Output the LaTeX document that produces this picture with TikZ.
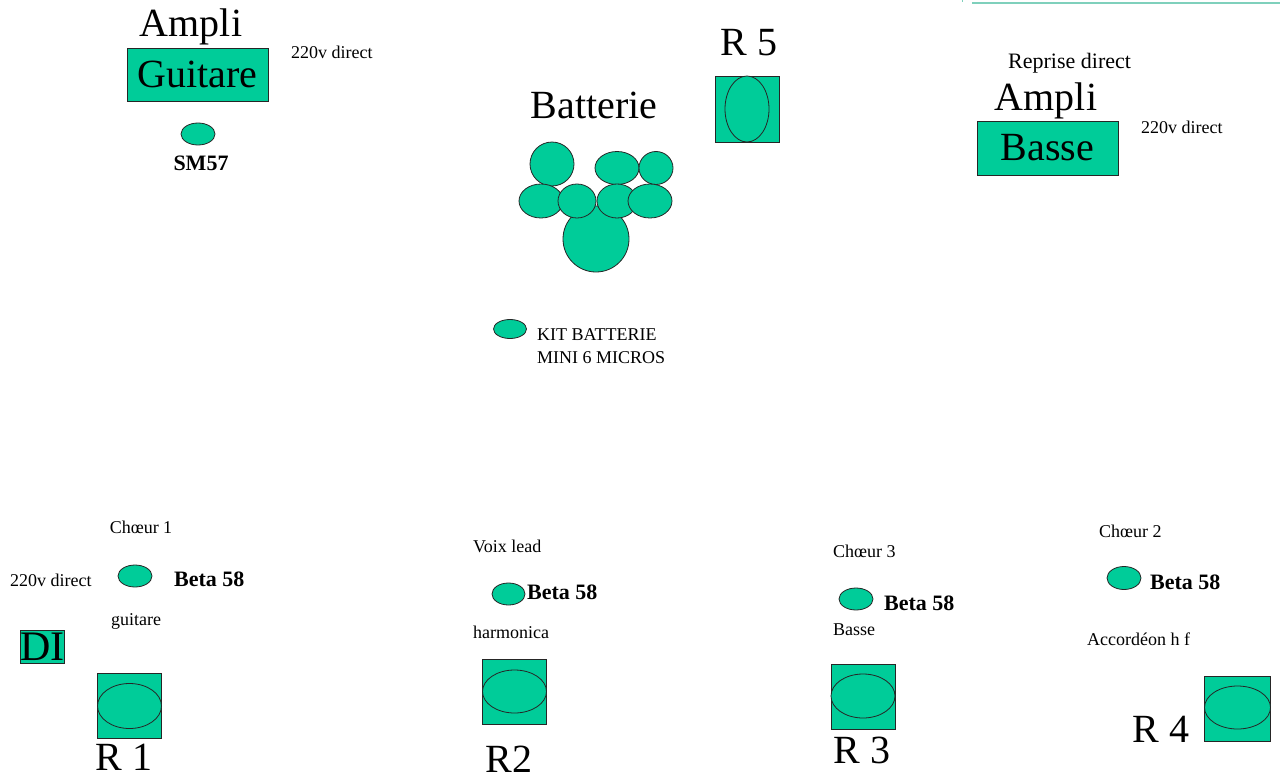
\documentclass[tikz,border=0pt]{standalone}
\usepackage{fontspec}
\setmainfont{Liberation Serif}
\usetikzlibrary{shapes.geometric}
\definecolor{stage}{HTML}{00CC99}
\definecolor{faint}{HTML}{7FD0BC}
\begin{document}
\begin{tikzpicture}[x=1pt,y=-1pt,
  box/.style={draw=black!85, line width=0.8pt, fill=stage, inner sep=0pt},
  elli/.style={ellipse, draw=black!85, line width=0.8pt, fill=stage, inner sep=0pt},
  big/.style={font=\fontsize{40}{44}\selectfont, inner sep=0pt},
  small/.style={font=\fontsize{18}{20}\selectfont, inner sep=0pt},
  medium/.style={font=\fontsize{22}{24}\selectfont, inner sep=0pt},
  bold/.style={font=\fontsize{22}{24}\selectfont\bfseries, inner sep=0pt}]
\useasboundingbox (0,0) rectangle (1280,779);

% faint line top right
\coordinate (l0) at (972,3);
\coordinate (l1) at (1280,3);
\coordinate (t0) at (962,0);
\coordinate (t1) at (962,2);
\draw[faint, line width=1.5pt] (l0) -- (l1);
\draw[faint, line width=1pt] (t0) -- (t1);

% ---- Ampli guitare
\node[big, anchor=base] (amplig) at (191,36) {Ampli};
\node[box, big, minimum width=141pt, minimum height=53pt] (guitare) at (197.5,74.5) {Guitare};
\node[small, anchor=base west] (dirg) at (291,58) {220v direct};
\node[elli, minimum width=34pt, minimum height=22pt] (sm57) at (198,134) {};
\node[bold, anchor=base] (sm57t) at (201,170) {SM57};

% ---- Batterie
\node[big, anchor=base] (batt) at (594,118) {Batterie};
\node[elli, minimum width=66pt, minimum height=66pt] (kick) at (596,239) {};
\node[elli, minimum width=44pt, minimum height=44pt] (d1) at (552,164) {};
\node[elli, minimum width=44pt, minimum height=33pt] (d2) at (617,168) {};
\node[elli, minimum width=34pt, minimum height=33pt] (d3) at (656,168) {};
\node[elli, minimum width=44pt, minimum height=34pt] (d4) at (541,201) {};
\node[elli, minimum width=38pt, minimum height=34pt] (d5) at (577,201) {};
\node[elli, minimum width=40pt, minimum height=34pt] (d6) at (617,201) {};
\node[elli, minimum width=44pt, minimum height=34pt] (d7) at (650,201) {};
\node[elli, minimum width=33pt, minimum height=19pt] (kitmic) at (510,329) {};
\node[small, anchor=base west] (kit1) at (537,340) {KIT BATTERIE};
\node[small, anchor=base west] (kit2) at (537,363) {MINI 6 MICROS};

% ---- R 5
\node[big, anchor=base] (r5t) at (749,55) {R 5};
\node[box, minimum width=64pt, minimum height=66pt] (r5) at (747,109) {};
\node[elli, minimum width=44pt, minimum height=66pt] (r5e) at (747,109) {};

% ---- Ampli basse
\node[medium, anchor=base west] (repr) at (1008,68) {Reprise direct};
\node[big, anchor=base] (amplib) at (1046,110) {Ampli};
\node[box, big, minimum width=141pt, minimum height=54pt] (basse) at (1047.5,148) {Basse};
\node[small, anchor=base west] (dirb) at (1141,133) {220v direct};

% ---- R1 group
\node[small, anchor=base] (ch1) at (141,533) {Chœur 1};
\node[small, anchor=base west] (dir1) at (10,586) {220v direct};
\node[elli, minimum width=34pt, minimum height=22pt] (m1) at (135,576) {};
\node[bold, anchor=base west] (b1) at (174,586) {Beta 58};
\node[small, anchor=base] (gt1) at (136,625) {guitare};
\node[box, font=\fontsize{42}{44}\selectfont, minimum width=43pt, minimum height=33pt] (di) at (42.5,647) {DI};
\node[box, minimum width=64pt, minimum height=65pt] (r1) at (129.5,705.5) {};
\node[elli, minimum width=64pt, minimum height=45pt] (r1e) at (129.5,706) {};
\node[big, anchor=base] (r1t) at (124,770) {R 1};

% ---- R2 group
\node[small, anchor=base west] (voix) at (473,552) {Voix lead};
\node[elli, minimum width=33pt, minimum height=22pt] (m2) at (508.5,594) {};
\node[bold, anchor=base west] (b2) at (527,599) {Beta 58};
\node[small, anchor=base west] (harm) at (473,638) {harmonica};
\node[box, minimum width=64pt, minimum height=65pt] (r2) at (514.5,691.5) {};
\node[elli, minimum width=64pt, minimum height=43pt] (r2e) at (514.5,691.5) {};
\node[big, anchor=base] (r2t) at (509,772) {R2};

% ---- R3 group
\node[small, anchor=base west] (ch3) at (833,557) {Chœur 3};
\node[elli, minimum width=34pt, minimum height=22pt] (m3) at (856,599) {};
\node[bold, anchor=base west] (b3) at (884,610) {Beta 58};
\node[small, anchor=base west] (bas3) at (833,635) {Basse};
\node[box, minimum width=64pt, minimum height=65pt] (r3) at (863,696.5) {};
\node[elli, minimum width=64pt, minimum height=44pt] (r3e) at (863,696) {};
\node[big, anchor=base] (r3t) at (862,763) {R 3};

% ---- R4 group
\node[small, anchor=base west] (ch2) at (1099,537) {Chœur 2};
\node[elli, minimum width=34pt, minimum height=23pt] (m4) at (1124,578) {};
\node[bold, anchor=base west] (b4) at (1150,589) {Beta 58};
\node[small, anchor=base west] (acc) at (1087,645) {Accordéon h f};
\node[box, minimum width=66pt, minimum height=65pt] (r4) at (1237.5,708.5) {};
\node[elli, minimum width=66pt, minimum height=43pt] (r4e) at (1237.5,707.5) {};
\node[big, anchor=base] (r4t) at (1161,742) {R 4};
\end{tikzpicture}
\end{document}
